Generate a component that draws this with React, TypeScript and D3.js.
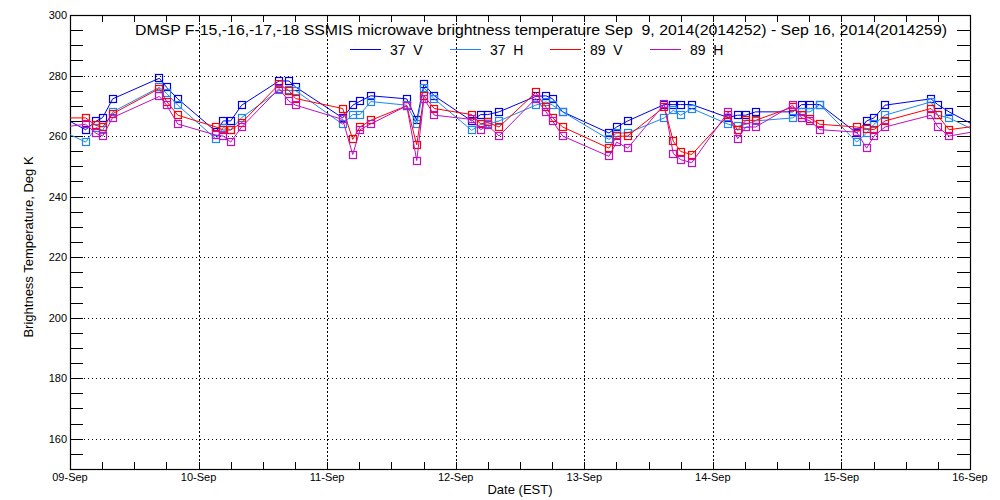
import React, { useEffect, useRef } from 'react';
import * as d3 from 'd3';

// observation times, fractional day of September 2014 (EST)
const times = [
  8.95, 9.122, 9.202, 9.254, 9.332, 9.695, 9.752, 9.838,
  10.136, 10.192, 10.25, 10.335, 10.626, 10.703, 10.755,
  11.121, 11.199, 11.256, 11.339, 11.619, 11.697, 11.753, 11.833,
  12.124, 12.194, 12.249, 12.337, 12.622, 12.702, 12.754, 12.832,
  13.192, 13.252, 13.338, 13.622, 13.692, 13.75, 13.836,
  14.12, 14.193, 14.256, 14.333, 14.621, 14.691, 14.756, 14.833,
  15.119, 15.196, 15.253, 15.339, 15.697, 15.749, 15.837, 16.08,
];

const v37 = [
  266, 262.1, 264.9, 266.1, 272.3, 279.1, 276.1, 272.3,
  261.5, 265, 265, 270.2, 278.2, 278.2, 276.2,
  266, 270.2, 271.5, 273.3, 272.3, 265.2, 277.1, 273.3,
  265, 267.1, 267.1, 268, 273.1, 273.3, 272.3, 268,
  261, 263, 265, 270.4, 270.4, 270.4, 270.4,
  266.1, 266.9, 266.9, 268, 268, 270.4, 270.4, 270.4,
  261, 265, 266, 270.2, 272.3, 270.4, 268, 262.5,
];

const h37 = [
  261.5, 258, 262.8, 261.9, 268, 276.1, 274.1, 270.2,
  259, 262.8, 262.1, 266.1, 275.1, 275.1, 275,
  263.9, 267.1, 267.1, 271.4, 270.2, 264.1, 275.9, 272.3,
  261.9, 263.9, 263.9, 265, 270.2, 271.3, 270.2, 268,
  258.9, 261, 261, 266, 268.5, 266.9, 269.1,
  263.9, 263.2, 263.9, 265, 266, 268, 268, 270.4,
  258, 261, 263.9, 266.9, 271.3, 266.9, 266, 261,
];

const v89 = [
  266, 266, 263.5, 263, 267.4, 275.7, 271.4, 266.9,
  263, 262, 262, 264.4, 277.1, 275, 272.4,
  269.1, 258.9, 263, 265.2, 270, 257.1, 273.3, 269.1,
  267.1, 264, 264.5, 263, 274.4, 269.5, 266, 263,
  256, 259.9, 260, 269.6, 258.3, 254.9, 253.9,
  266.9, 261.9, 265.2, 265.2, 269.6, 266.9, 265.8, 263.9,
  263, 262.5, 262.1, 265, 269.1, 266.8, 262.1, 263.5,
];

const h89 = [
  263, 263.9, 260.9, 260, 266.1, 273.1, 270.2, 264,
  260.3, 260, 258, 263, 275.7, 271.5, 270.2,
  265.5, 253.9, 262.1, 264, 270, 251.9, 272.4, 266.9,
  265.5, 262.1, 263.5, 260, 272.4, 268, 264.9, 260,
  253.3, 258, 256, 270.5, 254.2, 252.2, 251.2,
  268, 259.1, 263, 263, 270.2, 266, 265, 262.1,
  261.3, 256, 260, 263, 266.9, 263, 260, 261.8,
];

const seriesNames = ['37 V', '37 H', '89 V', '89 H'];
const seriesColors = ['#0000e6', '#1e88f0', '#ff0000', '#c010c0'];
const dayLabels = ['09-Sep', '10-Sep', '11-Sep', '12-Sep', '13-Sep', '14-Sep', '15-Sep', '16-Sep'];
const yLabels = [160, 180, 200, 220, 240, 260, 280, 300];

const title =
  'DMSP F-15,-16,-17,-18 SSMIS microwave brightness temperature Sep  9, 2014(2014252) - Sep 16, 2014(2014259)';

const W = 1000;
const H = 500;
const margin = { left: 70, right: 30, top: 15, bottom: 31 };

export default function App() {
  const ref = useRef<SVGSVGElement>(null);

  useEffect(() => {
    if (!ref.current) return;
    const svg = d3.select(ref.current);
    svg.selectAll('*').remove();

    const x0 = margin.left;
    const x1 = W - margin.right;
    const y0 = H - margin.bottom;
    const y1 = margin.top;

    const x = d3.scaleLinear().domain([9, 16]).range([x0, x1]);
    const y = d3.scaleLinear().domain([150, 300]).range([y0, y1]);

    svg.append('rect').attr('width', W).attr('height', H).attr('fill', '#fff');

    svg
      .append('defs')
      .append('clipPath')
      .attr('id', 'plot-clip')
      .append('rect')
      .attr('x', x0)
      .attr('y', y1)
      .attr('width', x1 - x0)
      .attr('height', y0 - y1);

    const font = "'Liberation Sans', Arial, sans-serif";

    // dotted grid
    const grid = svg.append('g');
    grid
      .selectAll('line.h')
      .data(yLabels.filter((v) => v < 300))
      .enter()
      .append('line')
      .attr('x1', x0 + 14)
      .attr('x2', x1 - 14)
      .attr('y1', (d) => Math.round(y(d)) + 0.5)
      .attr('y2', (d) => Math.round(y(d)) + 0.5)
      .attr('stroke', '#000')
      .attr('stroke-dasharray', '1,3');
    grid
      .selectAll('line.v')
      .data(d3.range(10, 16))
      .enter()
      .append('line')
      .attr('x1', (d) => Math.round(x(d)) + 0.5)
      .attr('x2', (d) => Math.round(x(d)) + 0.5)
      .attr('y1', y1 + 8)
      .attr('y2', y0 - 8)
      .attr('stroke', '#000')
      .attr('stroke-dasharray', '2,2');

    // ticks
    const ticks = svg.append('g').attr('stroke', '#000');
    const yMinor = d3.range(150, 301, 5);
    yMinor.forEach((v) => {
      const yy = Math.round(y(v)) + 0.5;
      ticks.append('line').attr('x1', x0).attr('x2', x0 + 13).attr('y1', yy).attr('y2', yy);
      ticks.append('line').attr('x1', x1 - 13).attr('x2', x1).attr('y1', yy).attr('y2', yy);
    });
    const xMinor = d3.range(9, 16.01, 0.25);
    xMinor.forEach((t) => {
      const xx = Math.round(x(t)) + 0.5;
      ticks.append('line').attr('x1', xx).attr('x2', xx).attr('y1', y0).attr('y2', y0 - 7);
      ticks.append('line').attr('x1', xx).attr('x2', xx).attr('y1', y1).attr('y2', y1 + 7);
    });

    // frame
    svg
      .append('rect')
      .attr('x', x0 + 0.5)
      .attr('y', y1 + 0.5)
      .attr('width', x1 - x0)
      .attr('height', y0 - y1)
      .attr('fill', 'none')
      .attr('stroke', '#000')
      .attr('stroke-width', 1.2);

    // tick labels
    svg
      .append('g')
      .selectAll('text')
      .data(yLabels)
      .enter()
      .append('text')
      .attr('x', x0 - 3)
      .attr('y', (d) => y(d) + 4)
      .attr('text-anchor', 'end')
      .attr('font-family', font)
      .attr('font-size', 11)
      .text((d) => d);

    svg
      .append('g')
      .selectAll('text')
      .data(dayLabels)
      .enter()
      .append('text')
      .attr('x', (_d, i) => x(9 + i))
      .attr('y', y0 + 12)
      .attr('text-anchor', 'middle')
      .attr('font-family', font)
      .attr('font-size', 11)
      .text((d) => d);

    svg
      .append('text')
      .attr('x', (x0 + x1) / 2)
      .attr('y', 494)
      .attr('text-anchor', 'middle')
      .attr('font-family', font)
      .attr('font-size', 13)
      .text('Date (EST)');

    svg
      .append('text')
      .attr('transform', `translate(33, ${(y0 + y1) / 2 + 5}) rotate(-90)`)
      .attr('text-anchor', 'middle')
      .attr('font-family', font)
      .attr('font-size', 13)
      .text('Brightness Temperature, Deg K');

    svg
      .append('text')
      .attr('x', 135)
      .attr('y', 35)
      .attr('font-family', font)
      .attr('font-size', 14)
      .attr('textLength', 812)
      .attr('lengthAdjust', 'spacingAndGlyphs')
      .attr('xml:space', 'preserve')
      .style('white-space', 'pre')
      .text(title);

    // legend
    const legend = svg.append('g');
    seriesNames.forEach((name, i) => {
      const lx = 350 + i * 100;
      legend
        .append('line')
        .attr('x1', lx)
        .attr('x2', lx + 31)
        .attr('y1', 49.5)
        .attr('y2', 49.5)
        .attr('stroke', seriesColors[i]);
      legend
        .append('text')
        .attr('x', lx + 40)
        .attr('y', 55)
        .attr('font-family', font)
        .attr('font-size', 14)
        .attr('xml:space', 'preserve')
        .style('white-space', 'pre')
        .text(name.replace(' ', '  '));
    });

    // data
    const allSeries = [v37, h37, v89, h89];
    const plot = svg.append('g').attr('clip-path', 'url(#plot-clip)');
    const line = d3
      .line<number>()
      .x((_d, i) => x(times[i]))
      .y((d) => y(d));

    allSeries.forEach((vals, s) => {
      const g = plot.append('g');
      g.append('path')
        .attr('d', line(vals))
        .attr('fill', 'none')
        .attr('stroke', seriesColors[s])
        .attr('stroke-width', 1);
      g.selectAll('rect')
        .data(vals)
        .enter()
        .append('rect')
        .attr('x', (_d, i) => Math.round(x(times[i])) - 3.5)
        .attr('y', (d) => Math.round(y(d)) - 3.5)
        .attr('width', 7)
        .attr('height', 7)
        .attr('fill', 'none')
        .attr('stroke', seriesColors[s])
        .attr('stroke-width', 1.2);
    });
  }, []);

  return (
    <svg
      ref={ref}
      width={W}
      height={H}
      style={{ display: 'block', position: 'fixed', left: 0, top: 0 }}
    />
  );
}
